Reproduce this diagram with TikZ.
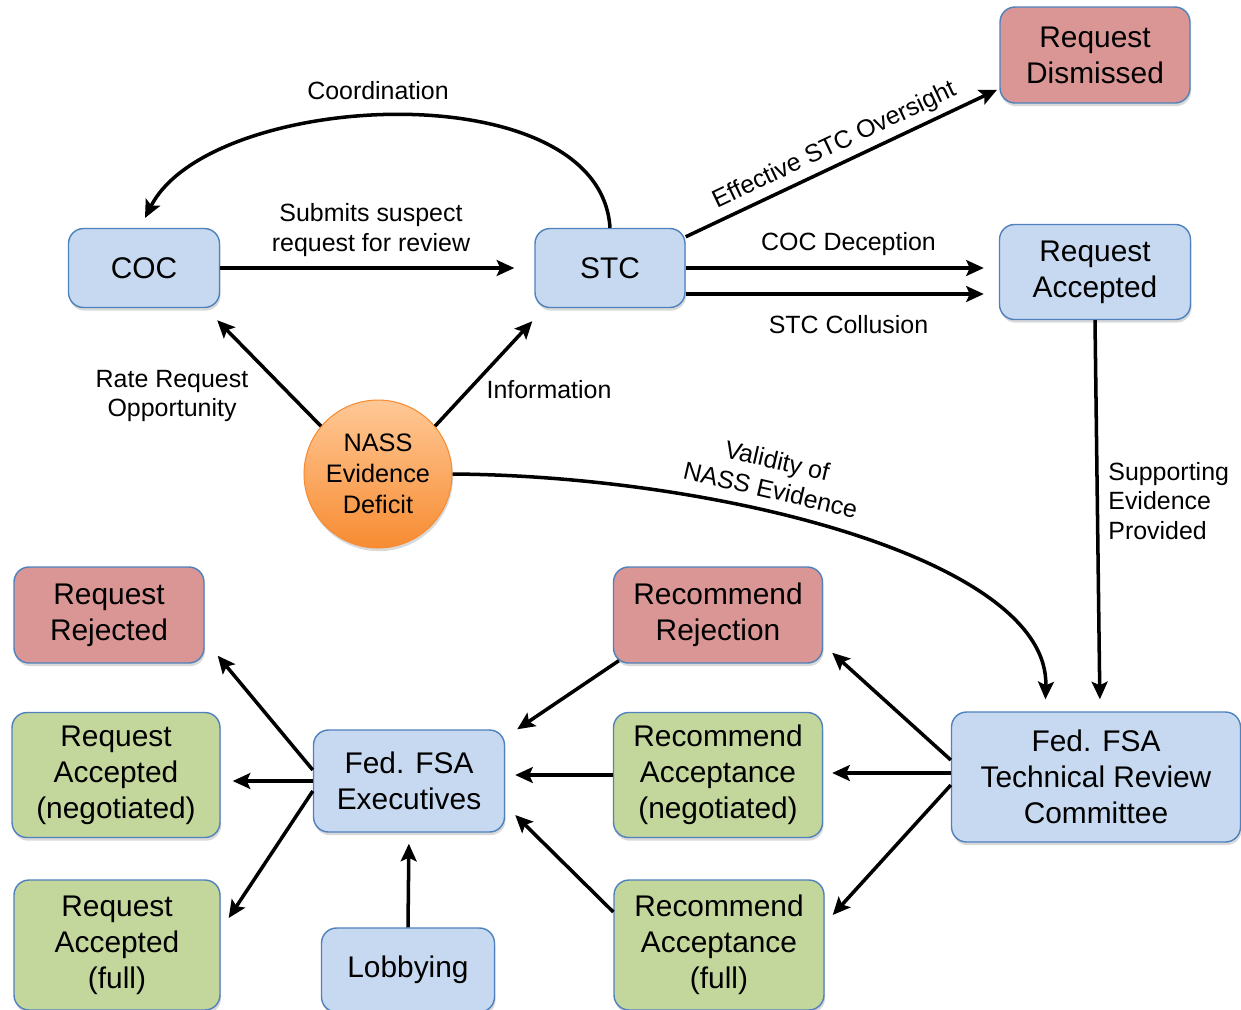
\documentclass[tikz,border=0pt]{standalone}
\usepackage{fontspec}
\setmainfont{Liberation Sans}
\usetikzlibrary{arrows.meta,shadows}
\definecolor{boxblue}{RGB}{198,217,240}
\definecolor{edgeblue}{RGB}{79,129,189}
\definecolor{boxred}{RGB}{217,150,148}
\definecolor{boxgreen}{RGB}{195,214,155}
\definecolor{nasstop}{RGB}{255,200,150}
\definecolor{nassbot}{RGB}{247,140,50}

\begin{document}
\begin{tikzpicture}[x=0.02cm,y=-0.02cm,inner sep=0pt]
\tikzstyle{main}=[rectangle, rounded corners=0.3cm, draw=edgeblue, line width=0.8pt, align=center, font=\fontsize{17}{20.5}\selectfont, drop shadow={shadow xshift=0.6pt,shadow yshift=-1.8pt,opacity=0.3}]
\tikzstyle{bluebox}=[main, fill=boxblue]
\tikzstyle{redbox}=[main, fill=boxred]
\tikzstyle{greenbox}=[main, fill=boxgreen]
\tikzstyle{lbl}=[align=center, font=\fontsize{14.2}{17}\selectfont]
\tikzstyle{connect}=[-{Stealth[length=10pt,width=9pt,inset=2pt]}, line width=2pt]
\useasboundingbox (0,0) rectangle (1241,1009);
\clip (0,0) rectangle (1241,1009);
% top row
\node[bluebox, minimum width=3.02cm, minimum height=1.58cm] (coc) at (144,268) {COC};
\node[bluebox, minimum width=3.0cm, minimum height=1.58cm] (stc) at (610,268) {STC};
\node[redbox, minimum width=3.8cm, minimum height=1.92cm] (dism) at (1095,55) {Request\\Dismissed};
\node[bluebox, minimum width=3.82cm, minimum height=1.9cm] (acc) at (1095,272) {Request\\Accepted};
\node[circle, minimum size=2.96cm, draw=nassbot, line width=0.6pt, top color=nasstop, bottom color=nassbot, align=center, font=\fontsize{14.4}{17.6}\selectfont, drop shadow={shadow xshift=0.6pt,shadow yshift=-1.8pt,opacity=0.3}] (nass) at (378,474) {NASS\\Evidence\\Deficit};
% bottom rows
\node[redbox, minimum width=3.8cm, minimum height=1.92cm] (rej) at (109,615) {Request\\Rejected};
\node[redbox, minimum width=4.18cm, minimum height=1.92cm] (recrej) at (718,615) {Recommend\\Rejection};
\node[greenbox, minimum width=4.16cm, minimum height=2.5cm] (accneg) at (116,775) {Request\\Accepted\\(negotiated)};
\node[bluebox, minimum width=3.82cm, minimum height=2.04cm] (exec) at (409,781) {Fed. FSA\\Executives};
\node[greenbox, minimum width=4.18cm, minimum height=2.5cm] (recneg) at (718,775) {Recommend\\Acceptance\\(negotiated)};
\node[bluebox, minimum width=5.78cm, minimum height=2.6cm] (trc) at (1096,777) {Fed. FSA\\Technical Review\\Committee};
\node[greenbox, minimum width=4.12cm, minimum height=2.6cm] (accfull) at (117,945) {Request\\Accepted\\(full)};
\node[bluebox, minimum width=3.46cm, minimum height=1.68cm] (lobby) at (408,970) {Lobbying};
\node[greenbox, minimum width=4.2cm, minimum height=2.6cm] (recfull) at (719,945) {Recommend\\Acceptance\\(full)};
% labels
\node[lbl] (lcoord) at (378,91) {Coordination};
\node[lbl] (lsubmit) at (371,230) {Submits suspect\\request for review};
\node[lbl] (lrate) at (172,396) {Rate Request\\Opportunity};
\node[lbl] (linfo) at (549,390) {Information};
\node[lbl, rotate=-13] (lvalid) at (774,475) {Validity of\\NASS Evidence};
\node[lbl, align=left, anchor=west] (lsupp) at (1108,501) {Supporting\\Evidence\\Provided};
% connectors
\path (coc.east) edge[connect, shorten >=0.4cm] (stc.west);
\draw[connect, shorten >=0.22cm] (stc.north) .. controls (600,70) and (210,90) .. ([xshift=-0.08cm]coc.north);
\path ([yshift=-0.18cm]stc.north east) edge[connect, shorten >=0.05cm] node[lbl, sloped, above=3pt, pos=0.5] {Effective STC Oversight} ([yshift=0.3cm]dism.south west);
\path (stc.east) edge[connect, shorten >=0.3cm] node[lbl, above=6pt, pos=0.52] {COC Deception} (stc.east -| acc.west);
\path ([yshift=-0.52cm]stc.east) edge[connect, shorten >=0.3cm] node[lbl, below=11pt, pos=0.52] {STC Collusion} ([yshift=-0.52cm]stc.east -| acc.west);
\path (nass.140) edge[connect] ([xshift=-0.06cm,yshift=-0.24cm]coc.south east);
\path (nass.40) edge[connect] ([xshift=-0.04cm,yshift=-0.26cm]stc.south west);
\draw[connect, shorten >=0.24cm] (nass.east) .. controls (720,476) and (1050,560) .. ([xshift=-1.02cm]trc.north);
\path (acc.south) edge[connect, shorten >=0.24cm] ([xshift=0.08cm]trc.north);
\path ([yshift=0.34cm]trc.west) edge[connect] ([xshift=0.18cm,yshift=0.22cm]recrej.south east);
\path ([yshift=0.08cm]trc.west) edge[connect, shorten >=0.18cm] ([yshift=0.08cm]trc.west -| recneg.east);
\path ([yshift=-0.16cm]trc.west) edge[connect] ([xshift=0.16cm,yshift=0.6cm]recfull.east);
\path ([xshift=0.12cm,yshift=0.06cm]recrej.south west) edge[connect] ([xshift=0.24cm]exec.north east);
\path (recneg.west) edge[connect, shorten >=0.2cm] (recneg.west -| exec.east);
\path ([yshift=0.66cm]recfull.west) edge[connect] ([xshift=0.2cm,yshift=-0.68cm]exec.east);
\path (lobby.north) edge[connect, shorten >=0.22cm] (exec.south);
\path ([yshift=0.22cm]exec.west) edge[connect] ([xshift=0.26cm,yshift=0.16cm]rej.south east);
\path (exec.west) edge[connect, shorten >=0.24cm] (exec.west -| accneg.east);
\path ([yshift=-0.2cm]exec.west) edge[connect] ([xshift=0.16cm,yshift=0.54cm]accfull.east);
\end{tikzpicture}
\end{document}
